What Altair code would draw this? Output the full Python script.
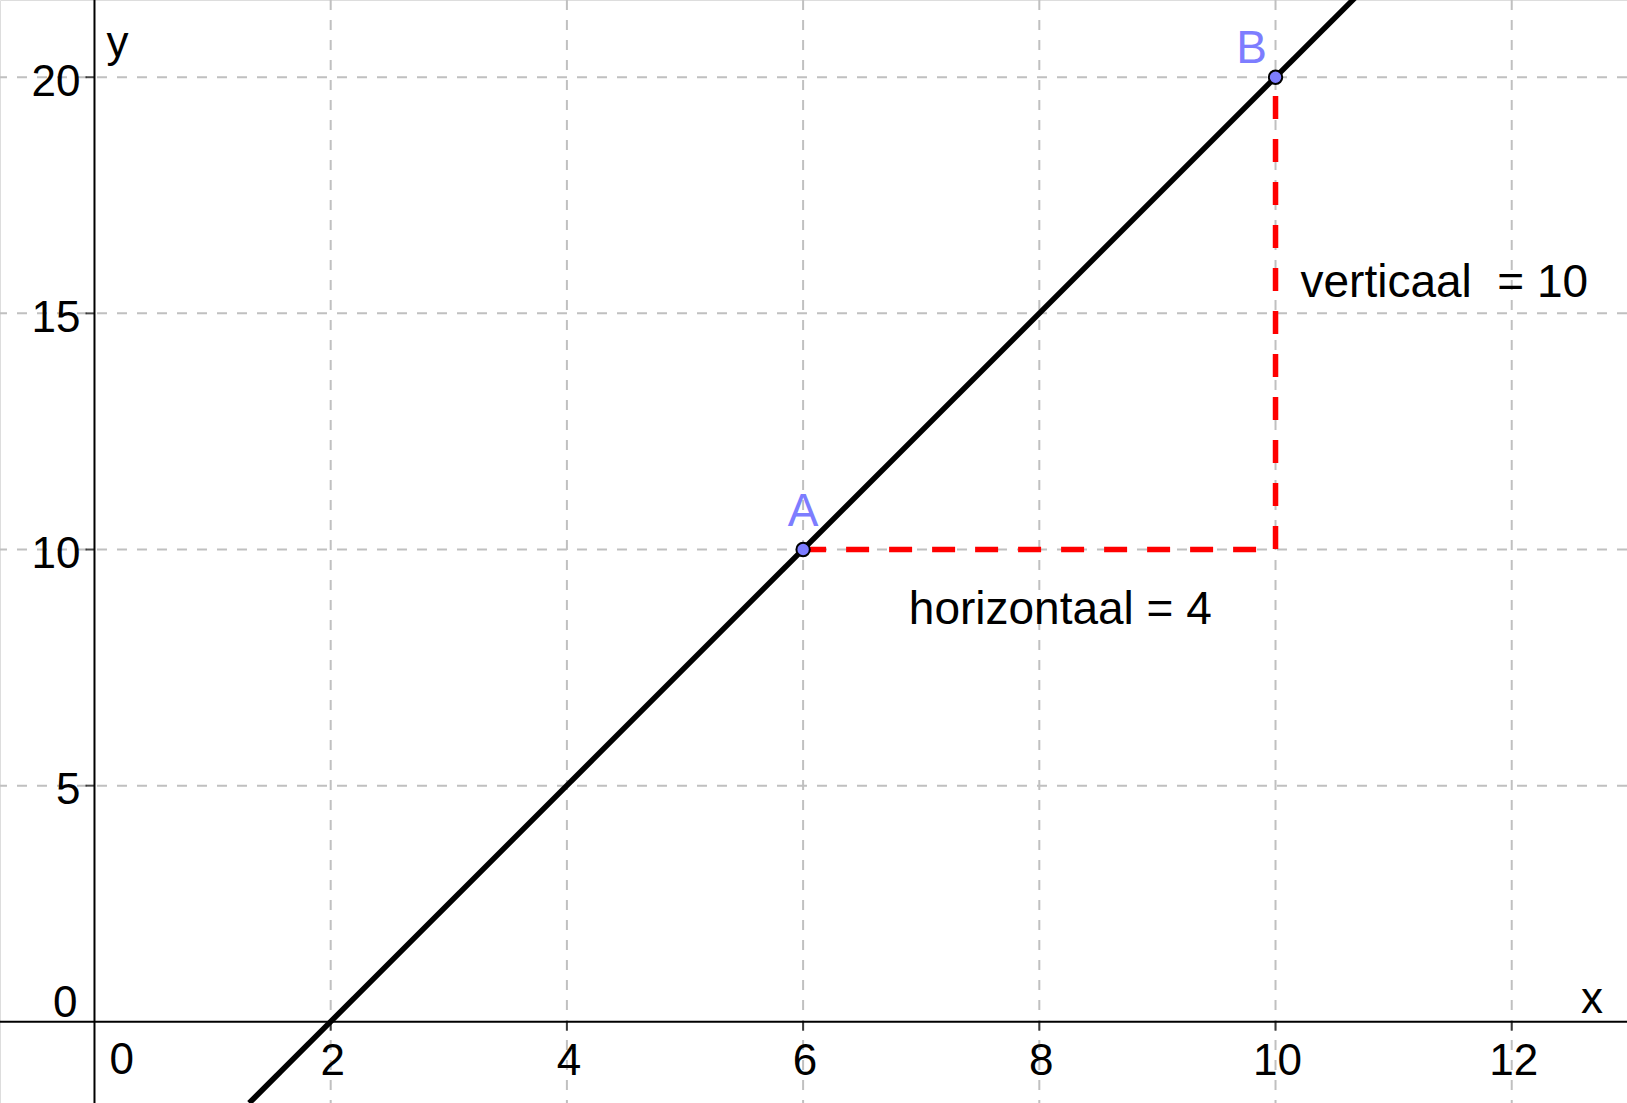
import altair as alt
import pandas as pd

# ---- data ----
x_domain = [-0.800, 12.976]
y_domain = [-1.719, 21.635]
x_ticks = [2, 4, 6, 8, 10, 12]
y_ticks = [5, 10, 15, 20]
point_names = ["A", "B"]
point_x = [6, 10]
point_y = [10, 20]
line_x = [1.31, 10.70]
line_y = [-1.72, 21.75]
path_x = [6, 10, 10]
path_y = [10, 10, 20]

FONT = "Liberation Sans"
FS = 44
FA = 46
W, H = 1627, 1103

def X(field="x"):
    return alt.X(f"{field}:Q", scale=alt.Scale(domain=x_domain, nice=False, zero=False), axis=None)

def Y(field="y"):
    return alt.Y(f"{field}:Q", scale=alt.Scale(domain=y_domain, nice=False, zero=False), axis=None)

xt = pd.DataFrame({"x": x_ticks, "y": [0] * len(x_ticks), "lab": [str(v) for v in x_ticks]})
yt = pd.DataFrame({"x": [0] * len(y_ticks), "y": y_ticks, "lab": [str(v) for v in y_ticks]})
pts = pd.DataFrame({"x": point_x, "y": point_y, "name": point_names})
ln = pd.DataFrame({"x": line_x, "y": line_y})
path = pd.DataFrame({"x": path_x, "y": path_y, "i": list(range(len(path_x)))})
origin = pd.DataFrame({"x": [0], "y": [0]})

grid_style = dict(color="#c0c0c0", strokeWidth=2, strokeDash=[10, 10])

vgrid = alt.Chart(xt).mark_rule(**grid_style).encode(x=X())
hgrid = alt.Chart(yt).mark_rule(**grid_style).encode(y=Y())

xaxis = alt.Chart(origin).mark_rule(color="black", strokeWidth=2).encode(y=Y())
yaxis = alt.Chart(origin).mark_rule(color="black", strokeWidth=2).encode(x=X())

xticks = alt.Chart(xt).mark_tick(orient="vertical", size=9, thickness=2, color="black", yOffset=4.5).encode(x=X(), y=Y())
yticks = alt.Chart(yt).mark_tick(orient="horizontal", size=9, thickness=2, color="black", xOffset=-4.5).encode(x=X(), y=Y())

xlabels = alt.Chart(xt).mark_text(font=FONT, fontSize=FS, color="black", align="center", baseline="alphabetic", dx=2, dy=53).encode(x=X(), y=Y(), text="lab:N")
ylabels = alt.Chart(yt).mark_text(font=FONT, fontSize=FS, color="black", align="right", baseline="alphabetic", dx=-14, dy=18.5).encode(x=X(), y=Y(), text="lab:N")
zero_x = alt.Chart(origin).mark_text(font=FONT, fontSize=FS, color="black", align="left", baseline="alphabetic", dx=15, dy=52, text="0").encode(x=X(), y=Y())
zero_y = alt.Chart(origin).mark_text(font=FONT, fontSize=FS, color="black", align="right", baseline="alphabetic", dx=-17, dy=-5, text="0").encode(x=X(), y=Y())

xtitle = alt.Chart(pd.DataFrame({"x": [12.68], "y": [0]})).mark_text(font=FONT, fontSize=FS, color="black", align="center", baseline="alphabetic", dy=-9, text="x").encode(x=X(), y=Y())
ytitle = alt.Chart(pd.DataFrame({"x": [0], "y": [20]})).mark_text(font=FONT, fontSize=FS, color="black", align="center", baseline="alphabetic", dx=23, dy=-20, text="y").encode(x=X(), y=Y())

line = alt.Chart(ln).mark_line(color="black", strokeWidth=5.5, clip=True).encode(x=X(), y=Y())
red = alt.Chart(path).mark_line(color="#ff0000", strokeWidth=5.5, strokeDash=[23, 20], strokeCap="butt").encode(x=X(), y=Y(), order="i:Q")

points = alt.Chart(pts).mark_point(filled=True, shape="circle", size=180, color="#7d7dff", stroke="black", strokeWidth=2, opacity=1).encode(x=X(), y=Y())

lab_A = alt.Chart(pts[pts.name == "A"]).mark_text(font=FONT, fontSize=FA, color="#7d7dff", align="center", baseline="alphabetic", dx=0, dy=-24).encode(x=X(), y=Y(), text="name:N")
lab_B = alt.Chart(pts[pts.name == "B"]).mark_text(font=FONT, fontSize=FA, color="#7d7dff", align="center", baseline="alphabetic", dx=-24, dy=-14).encode(x=X(), y=Y(), text="name:N")

horiz = alt.Chart(pd.DataFrame({"x": [8], "y": [10]})).mark_text(font=FONT, fontSize=FA, color="black", align="center", baseline="alphabetic", dx=21, dy=74, text="horizontaal = 4").encode(x=X(), y=Y())
vert = alt.Chart(pd.DataFrame({"x": [10], "y": [15]})).mark_text(font=FONT, fontSize=FA, color="black", align="left", baseline="alphabetic", dx=25, dy=-16, text="verticaal\u00a0 = 10").encode(x=X(), y=Y())

chart = alt.layer(
    vgrid, hgrid, xaxis, yaxis, xticks, yticks, xlabels, ylabels, zero_x, zero_y,
    xtitle, ytitle, line, red, points, lab_A, lab_B, horiz, vert
).properties(
    width=W, height=H, autosize=alt.AutoSizeParams(type="none"), padding=0
).configure_view(strokeWidth=0).configure(background="white")

chart.save("out.html", embed_options={"renderer": "svg", "actions": False})
